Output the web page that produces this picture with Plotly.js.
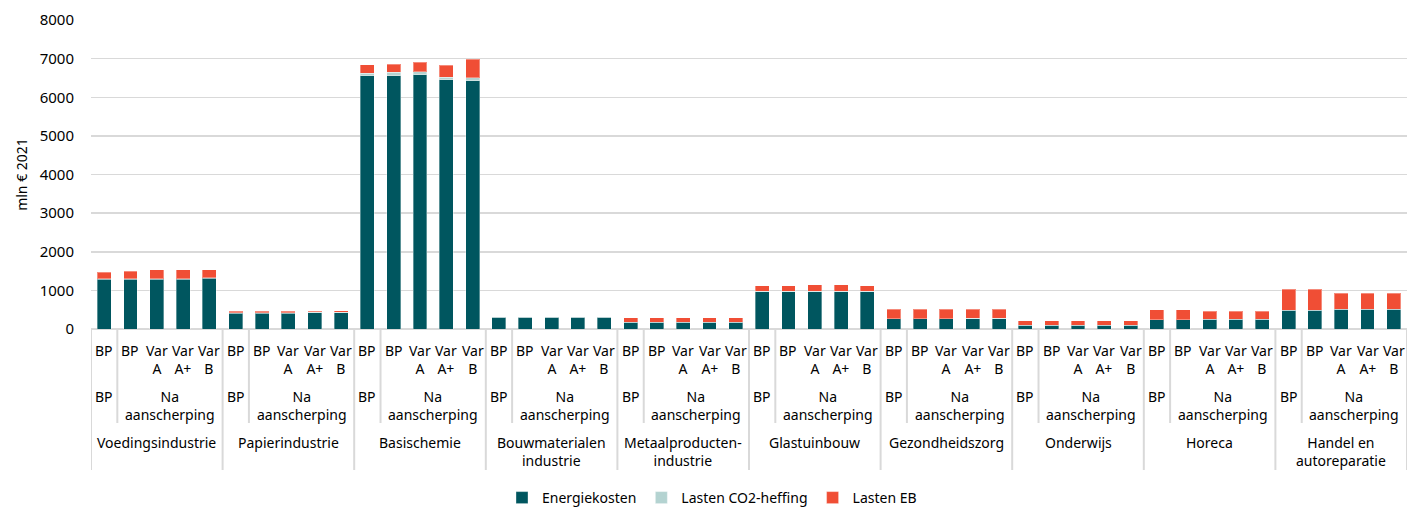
<!DOCTYPE html>
<html>
<head>
<meta charset="utf-8">
<script src="https://cdn.plot.ly/plotly-3.0.1.min.js"></script>
<style>
  html, body { margin: 0; padding: 0; background: #fff; }
  #chart { width: 1407px; height: 507px; }
</style>
</head>
<body>
<div id="chart"></div>
<script>
// ---- Data ----
const sectors = ['Voedingsindustrie', 'Papierindustrie', 'Basischemie', 'Bouwmaterialen<br>industrie',
  'Metaalproducten-<br>industrie', 'Glastuinbouw', 'Gezondheidszorg', 'Onderwijs', 'Horeca',
  'Handel en<br>autoreparatie'];
const midLabels = ['BP', 'Na<br>aanscherping'];
const subLabels = ['BP', 'BP', 'Var<br>A', 'Var<br>A+', 'Var<br>B'];

const energiekosten = [
  1290, 1290, 1290, 1290, 1310,
  405, 405, 405, 420, 420,
  6560, 6560, 6580, 6450, 6430,
  300, 300, 300, 300, 300,
  170, 170, 170, 170, 170,
  970, 970, 970, 970, 970,
  265, 265, 265, 270, 270,
  95, 95, 95, 95, 95,
  240, 240, 250, 250, 250,
  480, 480, 505, 505, 505
];
const lastenCO2 = [
  15, 15, 15, 15, 15,
  10, 10, 10, 10, 10,
  60, 90, 75, 70, 80,
  5, 5, 5, 5, 5,
  5, 5, 5, 5, 5,
  10, 10, 10, 10, 10,
  5, 5, 5, 5, 5,
  3, 3, 3, 3, 3,
  5, 5, 5, 5, 5,
  5, 5, 5, 5, 5
];
const lastenEB = [
  165, 185, 225, 225, 215,
  42, 42, 50, 35, 40,
  225, 210, 250, 310, 475,
  5, 10, 10, 10, 10,
  110, 110, 110, 110, 110,
  140, 140, 160, 160, 140,
  237, 237, 237, 230, 230,
  122, 117, 117, 117, 117,
  255, 255, 200, 200, 200,
  539, 539, 411, 411, 411
];
const seriesNames = ['Energiekosten', 'Lasten CO2-heffing', 'Lasten EB'];
const seriesColors = ['#00565f', '#b4d3d1', '#f04e35'];

// ---- Build ----
const nPer = subLabels.length;
const xs = energiekosten.map((_, i) => i + 0.5);
const font = 'Noto Sans, sans-serif';

const traces = [energiekosten, lastenCO2, lastenEB].map((vals, k) => ({
  type: 'bar',
  name: seriesNames[k],
  x: xs,
  y: vals,
  width: 0.53,
  marker: { color: seriesColors[k], line: { color: 'rgba(255,255,255,0.35)', width: 1 } },
  hoverinfo: 'y+name'
}));

// pixel geometry helpers (plot top 20, bottom 329)
const H = 507;
const topPx = 20, botPx = 329;
const py = p => (botPx - p) / (botPx - topPx);

const shapes = [];
const annotations = [];
const colorLine = '#d9d9d9';
for (let g = 0; g <= sectors.length; g++) {
  const x0 = g * nPer;
  shapes.push({ type: 'line', xref: 'x', yref: 'paper', x0: x0, x1: x0, y0: py(329), y1: py(470),
    line: { color: colorLine, width: 2 } });
  if (g < sectors.length) {
    shapes.push({ type: 'line', xref: 'x', yref: 'paper', x0: x0 + 1, x1: x0 + 1, y0: py(329), y1: py(423),
      line: { color: colorLine, width: 2 } });
    // level 1
    subLabels.forEach((s, j) => {
      annotations.push({ xref: 'x', yref: 'paper', x: x0 + j + 0.5, y: py(339), yanchor: 'top',
        text: s, showarrow: false, font: { family: font, size: 14, color: '#000' } });
    });
    // level 2
    annotations.push({ xref: 'x', yref: 'paper', x: x0 + 0.5, y: py(385), yanchor: 'top',
      text: midLabels[0], showarrow: false, font: { family: font, size: 14, color: '#000' } });
    annotations.push({ xref: 'x', yref: 'paper', x: x0 + 3, y: py(385), yanchor: 'top',
      text: midLabels[1], showarrow: false, font: { family: font, size: 14, color: '#000' } });
    // level 3
    annotations.push({ xref: 'x', yref: 'paper', x: x0 + nPer / 2, y: py(431), yanchor: 'top',
      text: sectors[g], showarrow: false, font: { family: font, size: 14, color: '#000' } });
  }
}

const layout = {
  width: 1407, height: H,
  margin: { l: 91, r: 0, t: topPx, b: H - botPx, autoexpand: false },
  paper_bgcolor: '#fff', plot_bgcolor: '#fff',
  barmode: 'stack',
  showlegend: true,
  legend: { orientation: 'h', xref: 'container', yref: 'container', x: 712 / 1407, xanchor: 'center',
    y: 1 - 498 / H, yanchor: 'middle', itemwidth: 30,
    font: { family: font, size: 14, color: '#000' }, traceorder: 'normal' },
  xaxis: { type: 'linear', range: [0, 50], showticklabels: false, showgrid: false, zeroline: false,
    showline: false, fixedrange: true },
  yaxis: { range: [0, 8000], dtick: 1000, showgrid: true, gridcolor: colorLine, gridwidth: 1.5,
    zeroline: true, zerolinecolor: colorLine, zerolinewidth: 2, ticklabelstandoff: 16,
    tickfont: { family: font, size: 15, color: '#000' },
    title: { text: 'mln € 2021', font: { family: font, size: 14, color: '#000' }, standoff: 8 } },
  shapes: shapes,
  annotations: annotations,
  font: { family: font }
};

Plotly.newPlot('chart', traces, layout, { displayModeBar: false, staticPlot: true });
</script>
</body>
</html>
